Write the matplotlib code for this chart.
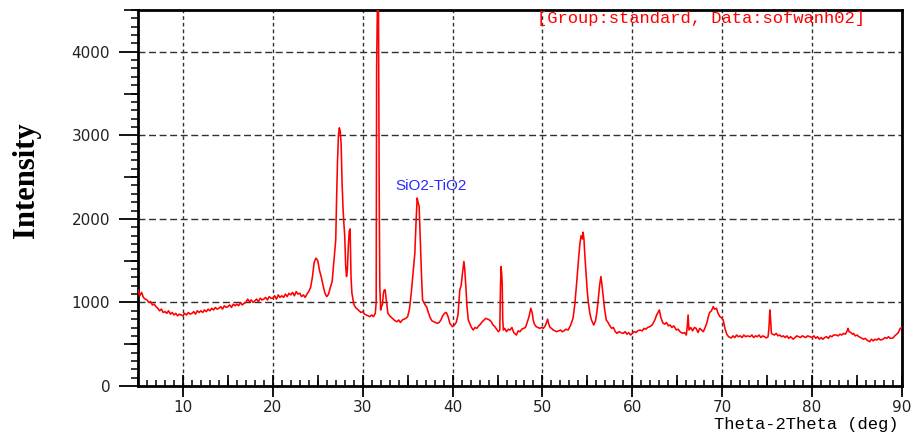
import matplotlib
matplotlib.use("Agg")
import matplotlib.pyplot as plt
from matplotlib.ticker import MultipleLocator

# ---------------- data ----------------
two_theta = [
    5.0, 5.2, 5.4, 5.6, 5.8, 6.0, 6.2, 6.4, 6.6, 6.8,
    7.0, 7.2, 7.4, 7.6, 7.8, 8.0, 8.2, 8.4, 8.6, 8.8,
    9.0, 9.2, 9.4, 9.6, 9.8, 10.0, 10.2, 10.4, 10.6, 10.8,
    11.0, 11.2, 11.4, 11.6, 11.8, 12.0, 12.2, 12.4, 12.6, 12.8,
    13.0, 13.2, 13.4, 13.6, 13.8, 14.0, 14.2, 14.4, 14.6, 14.8,
    15.0, 15.2, 15.4, 15.6, 15.8, 16.0, 16.2, 16.4, 16.6, 16.8,
    17.0, 17.2, 17.4, 17.6, 17.8, 18.0, 18.2, 18.4, 18.6, 18.8,
    19.0, 19.2, 19.4, 19.6, 19.8, 20.0, 20.2, 20.4, 20.6, 20.8,
    21.0, 21.2, 21.4, 21.6, 21.8, 22.0, 22.2, 22.4, 22.6, 22.8,
    23.0, 23.2, 23.4, 23.6, 23.8, 24.0, 24.2, 24.4, 24.6, 24.8,
    25.0, 25.2, 25.4, 25.6, 25.8, 26.0, 26.2, 26.4, 26.6, 26.8,
    27.0, 27.1, 27.2, 27.3, 27.4, 27.5, 27.6, 27.7, 27.8, 27.9,
    28.0, 28.1, 28.2, 28.3, 28.4, 28.5, 28.6, 28.7, 28.8, 28.9,
    29.0, 29.2, 29.4, 29.6, 29.8, 30.0, 30.2, 30.4, 30.6, 30.8,
    31.0, 31.2, 31.4, 31.5, 31.55, 31.65, 31.75, 31.83, 31.9, 32.0,
    32.1, 32.2, 32.3, 32.4, 32.5, 32.6, 32.8, 33.0, 33.2, 33.4,
    33.6, 33.8, 34.0, 34.2, 34.4, 34.6, 34.8, 35.0, 35.2, 35.4,
    35.6, 35.8, 35.95, 36.06, 36.15, 36.28, 36.43, 36.55, 36.66, 36.8,
    37.0, 37.1, 37.3, 37.5, 37.7, 37.9, 38.1, 38.3, 38.5, 38.7,
    38.9, 39.1, 39.3, 39.5, 39.7, 39.9, 40.0, 40.2, 40.4, 40.6,
    40.7, 40.8, 40.95, 41.1, 41.26, 41.35, 41.5, 41.6, 41.75, 41.9,
    42.1, 42.3, 42.5, 42.7, 42.9, 43.1, 43.3, 43.5, 43.7, 43.9,
    44.1, 44.3, 44.5, 44.7, 44.9, 45.1, 45.25, 45.33, 45.4, 45.47,
    45.52, 45.58, 45.65, 45.8, 46.0, 46.2, 46.4, 46.6, 46.8, 47.0,
    47.1, 47.3, 47.5, 47.7, 47.9, 48.1, 48.3, 48.5, 48.7, 48.85,
    48.97, 49.1, 49.3, 49.5, 49.7, 49.9, 50.1, 50.3, 50.45, 50.57,
    50.7, 50.85, 51.0, 51.2, 51.4, 51.56, 51.8, 52.0, 52.2, 52.4,
    52.6, 52.86, 53.1, 53.4, 53.6, 53.8, 54.0, 54.17, 54.3, 54.45,
    54.53, 54.62, 54.7, 54.85, 54.97, 55.1, 55.27, 55.45, 55.7, 55.9,
    56.05, 56.2, 56.35, 56.5, 56.6, 56.76, 56.9, 57.1, 57.3, 57.5,
    57.7, 57.9, 58.1, 58.3, 58.5, 58.7, 58.98, 59.2, 59.4, 59.6,
    59.8, 60.0, 60.2, 60.4, 60.6, 60.84, 61.1, 61.3, 61.5, 61.7,
    61.95, 62.2, 62.5, 62.7, 62.85, 63.0, 63.15, 63.3, 63.43, 63.6,
    63.8, 64.0, 64.2, 64.4, 64.6, 64.9, 65.1, 65.3, 65.6, 65.8,
    66.0, 66.1, 66.2, 66.3, 66.5, 66.7, 66.9, 67.1, 67.3, 67.5,
    67.7, 67.9, 68.1, 68.3, 68.45, 68.6, 68.8, 69.0, 69.15, 69.36,
    69.5, 69.73, 69.9, 70.1, 70.3, 70.5, 70.7, 71.0, 71.2, 71.4,
    71.6, 71.8, 72.0, 72.2, 72.4, 72.6, 72.8, 73.1, 73.3, 73.5,
    73.7, 73.9, 74.1, 74.3, 74.5, 74.7, 74.9, 75.1, 75.2, 75.3,
    75.38, 75.47, 75.6, 75.8, 76.0, 76.2, 76.4, 76.6, 76.8, 77.0,
    77.2, 77.4, 77.6, 77.9, 78.1, 78.3, 78.5, 78.7, 78.9, 79.1,
    79.3, 79.5, 79.75, 80.0, 80.2, 80.4, 80.6, 80.8, 81.0, 81.2,
    81.4, 81.6, 81.8, 82.0, 82.2, 82.4, 82.7, 82.9, 83.1, 83.3,
    83.5, 83.7, 83.9, 84.0, 84.1, 84.3, 84.5, 84.6, 84.8, 85.0,
    85.2, 85.4, 85.7, 85.9, 86.1, 86.4, 86.6, 86.8, 87.0, 87.2,
    87.4, 87.6, 87.9, 88.1, 88.3, 88.5, 88.7, 89.0, 89.2, 89.4,
    89.6, 89.8, 90.0,
]

intensity = [
    1150, 1080, 1120, 1060, 1040, 1030, 1000, 1010, 970, 980,
    950, 930, 900, 920, 880, 890, 870, 900, 860, 880,
    850, 870, 840, 860, 850, 840, 870, 850, 880, 860,
    870, 890, 860, 900, 880, 900, 880, 910, 890, 920,
    900, 930, 910, 940, 920, 930, 950, 920, 960, 940,
    950, 970, 940, 980, 960, 980, 960, 1000, 970, 990,
    1000, 1040, 1010, 1030, 1000, 1020, 1040, 1010, 1050, 1030,
    1040, 1060, 1030, 1070, 1050, 1050, 1080, 1040, 1090, 1060,
    1080, 1060, 1100, 1070, 1110, 1090, 1120, 1080, 1130, 1100,
    1110, 1070, 1090, 1060, 1100, 1130, 1180, 1300, 1480, 1530,
    1500, 1380, 1300, 1200, 1110, 1070, 1100, 1180, 1250, 1500,
    1750, 2270, 2700, 3000, 3090, 3050, 2900, 2450, 2150, 1950,
    1800, 1450, 1310, 1400, 1670, 1850, 1880, 1300, 1110, 1050,
    980, 940, 920, 900, 880, 890, 860, 850, 840, 830,
    850, 830, 870, 1000, 3820, 4700, 4700, 2450, 1200, 910,
    950, 980, 1110, 1150, 1150, 1050, 870, 840, 820, 800,
    780, 770, 790, 760, 790, 800, 810, 830, 920, 1110,
    1350, 1590, 2000, 2250, 2200, 2150, 1690, 1300, 1030, 1000,
    960, 950, 880, 820, 780, 770, 760, 750, 760, 790,
    840, 870, 880, 830, 750, 720, 710, 730, 760, 850,
    1000, 1150, 1200, 1350, 1490, 1400, 1150, 950, 790, 750,
    700, 670, 700, 690, 720, 740, 770, 790, 810, 800,
    790, 770, 730, 710, 680, 650, 670, 1200, 1430, 1330,
    1230, 800, 670, 690, 650, 680, 670, 700, 640, 620,
    610, 660, 650, 680, 690, 700, 760, 830, 930, 880,
    790, 740, 710, 700, 690, 700, 690, 720, 760, 800,
    740, 700, 690, 670, 660, 650, 660, 670, 650, 660,
    680, 670, 720, 810, 980, 1230, 1500, 1710, 1800, 1760,
    1840, 1750, 1590, 1350, 1150, 1000, 870, 790, 730, 780,
    880, 1030, 1200, 1310, 1230, 1070, 930, 790, 760, 720,
    690, 700, 650, 630, 650, 640, 630, 650, 620, 640,
    610, 630, 650, 640, 660, 670, 660, 690, 680, 700,
    710, 730, 790, 850, 880, 910, 830, 780, 750, 740,
    760, 720, 730, 700, 720, 670, 680, 650, 630, 640,
    610, 700, 850, 670, 700, 660, 700, 690, 640, 690,
    670, 650, 700, 760, 830, 880, 900, 950, 920, 930,
    880, 830, 820, 790, 690, 620, 590, 575, 600, 580,
    610, 590, 600, 580, 610, 590, 600, 590, 610, 580,
    600, 590, 610, 580, 600, 590, 575, 590, 700, 910,
    800, 630, 620, 610, 630, 600, 610, 590, 600, 580,
    600, 570, 590, 560, 580, 600, 590, 580, 600, 590,
    580, 600, 590, 580, 600, 570, 590, 560, 580, 560,
    580, 590, 570, 600, 590, 610, 610, 600, 620, 610,
    630, 620, 660, 690, 650, 640, 620, 630, 600, 610,
    590, 580, 560, 570, 550, 530, 560, 540, 560, 550,
    570, 550, 560, 580, 570, 590, 570, 575, 600, 620,
    640, 690, 700,
]

x_tick_values = [10, 20, 30, 40, 50, 60, 70, 80, 90]
x_tick_labels = ["10", "20", "30", "40", "50", "60", "70", "80", "90"]
y_tick_values = [0, 1000, 2000, 3000, 4000]
y_tick_labels = ["0", "1000", "2000", "3000", "4000"]
x_mid_ticks = [5, 15, 25, 35, 45, 55, 65, 75, 85]
y_mid_ticks = [500, 1500, 2500, 3500, 4500]

phase_label = "SiO2-TiO2"
phase_pos = (37.6, 2390)
header_text = "[Group:standard, Data:sofwanh02]"
x_label = "Theta-2Theta (deg)"
y_label = "Intensity"

# ---------------- figure ----------------
plt.rcParams["font.family"] = ["DejaVu Sans"]
plt.rcParams["lines.scale_dashes"] = False

W, H = 913, 434
fig = plt.figure(figsize=(W / 100, H / 100), dpi=100)
fig.patch.set_facecolor("white")
rect = [138 / W, 1 - 386 / H, 764 / W, 376 / H]
ax = fig.add_axes(rect)

ax.plot(two_theta, intensity, color="#ff0000", lw=1.15, zorder=3, clip_on=True)

ax.set_xlim(5, 90)
ax.set_ylim(0, 4500)

ax.set_xticks(x_tick_values)
ax.set_xticklabels(x_tick_labels)
ax.set_yticks(y_tick_values)
ax.set_yticklabels(y_tick_labels)
ax.xaxis.set_minor_locator(MultipleLocator(1))
ax.yaxis.set_minor_locator(MultipleLocator(100))

ax.tick_params(axis="x", which="major", direction="inout", length=16, width=1.3,
               pad=2, labelsize=11, labelcolor="#222222")
ax.tick_params(axis="x", which="minor", direction="in", length=4, width=1.1)
ax.tick_params(axis="y", which="major", direction="out", length=14, width=1.3,
               pad=6, labelsize=11, labelcolor="#222222")
ax.tick_params(axis="y", which="minor", direction="out", length=5, width=1.1)

for s in ax.spines.values():
    s.set_linewidth(2.0)
    s.set_color("black")

ax.xaxis.grid(True, which="major", linestyle=(0, (2.6, 2.2)), color="#303030", lw=1.0)
ax.yaxis.grid(True, which="major", linestyle=(0, (5.0, 2.6)), color="#303030", lw=1.0)
ax.set_axisbelow(True)

# overlay axes carrying the medium-length ticks at the half-way marks
ov = fig.add_axes(rect, frameon=False, zorder=ax.get_zorder() + 1)
ov.patch.set_visible(False)
ov.set_xlim(5, 90)
ov.set_ylim(0, 4500)
ov.set_xticks(x_mid_ticks)
ov.set_yticks(y_mid_ticks)
ov.xaxis.set_ticks_position("bottom")
ov.yaxis.set_ticks_position("left")
ov.tick_params(axis="x", direction="in", length=8, width=1.2, labelbottom=False)
ov.tick_params(axis="y", direction="out", length=10, width=1.2, labelleft=False)

ax.text(phase_pos[0], phase_pos[1], phase_label, color="#2a2aff",
        fontsize=11, family="Liberation Sans", ha="center", va="center", zorder=4)

ax.text((537 - 138) / 764, (386 - 19) / 376, header_text, transform=ax.transAxes,
        color="#ff0000", fontsize=12.3, family="Liberation Mono",
        ha="left", va="center", zorder=4)

fig.text(898 / W, 1 - 424 / H, x_label, color="black", fontsize=12.3,
         family="Liberation Mono", ha="right", va="center")
fig.text(27 / W, 1 - 180 / H, y_label, color="black", fontsize=22,
         family="Liberation Serif", fontweight="bold", rotation=90,
         ha="center", va="center")

fig.savefig("out.png", dpi=100, facecolor="white")
